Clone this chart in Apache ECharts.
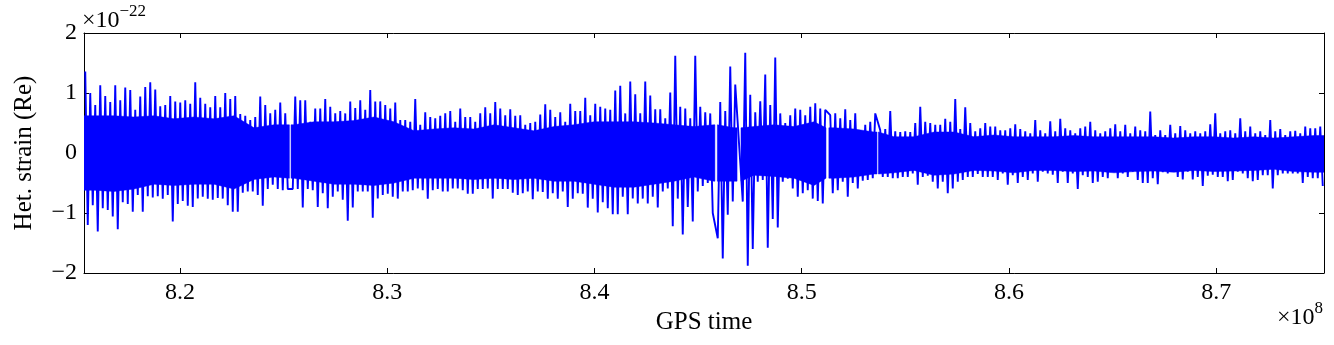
<!DOCTYPE html>
<html>
<head>
<meta charset="utf-8">
<title>Het. strain (Re)</title>
<script src="https://cdn.jsdelivr.net/npm/echarts@6.0.0/dist/echarts.min.js"></script>
<style>
  html, body { margin: 0; padding: 0; background: #fff; }
  #chart { width: 1334px; height: 345px; }
</style>
</head>
<body>
<div id="chart"></div>
<script>
// GPS time range, in units of 1e8 s
const timeRange = [8.1537, 8.7520]
const xTicks = [8.2, 8.3, 8.4, 8.5, 8.6, 8.7]

// peak values (units of 1e-22) per narrow time slice
const hiPeaks = [
  1.36, 1.0, 0.8, 1.13, 0.95, 0.85, 1.13, 0.88, 1.09, 1.05, 0.72, 0.94, 1.1, 1.18, 1.06, 0.78,
  0.8, 0.95, 0.86, 0.84, 0.88, 0.82, 1.18, 0.92, 0.82, 0.76, 0.95, 0.76, 1.0, 0.9, 0.95, 0.65,
  0.62, 0.55, 0.6, 0.94, 0.8, 0.66, 0.72, 0.84, 0.66, 0.63, 0.94,
  0.88, 0.88, 0.52, 0.74, 0.74, 0.9, 0.77, 0.66, 0.7, 0.66, 0.86, 0.75, 0.88, 0.72, 1.05, 0.86,
  0.86, 0.8, 0.74, 0.84, 0.55, 0.55, 0.52, 0.9, 0.47, 0.68, 0.6, 0.58, 0.62, 0.66, 0.7, 0.52,
  0.74, 0.6, 0.6, 0.52, 0.66, 0.76, 0.66, 0.85, 0.74, 0.63,
  0.73, 0.62, 0.63, 0.47, 0.5, 0.52, 0.64, 0.81, 0.72, 0.6, 0.68, 0.52, 0.82, 0.7, 0.7, 0.92,
  0.63, 0.82, 0.77, 0.74, 0.72, 1.04, 1.12, 0.66, 1.19, 0.98, 0.66, 1.19, 0.96, 0.73, 0.73, 0.58,
  1.01, 1.62, 0.77, 0.74, 0.58, 1.62, 0.77, 0.68, 0.66, 1.08,
  0.85, 0.7, 1.44, 1.14, 0.55, 1.67, 0.97, 0.68, 0.86, 1.31, 0.8, 1.59, 0.66, 0.5, 0.63, 0.74,
  0.72, 0.63, 0.77, 0.83, 0.74, 0.72, 0.63, 0.66, 0.58, 0.73, 0.55, 0.66, 0.38, 0.47, 0.52, 0.66,
  0.38, 0.4, 0.7, 0.36, 0.35, 0.36, 0.35, 0.5, 0.77, 0.52,
  0.5, 0.47, 0.47, 0.57, 0.52, 0.9, 0.4, 0.76, 0.5, 0.36, 0.41, 0.5, 0.44, 0.44, 0.38, 0.38,
  0.41, 0.48, 0.4, 0.36, 0.33, 0.55, 0.38, 0.33, 0.53, 0.36, 0.57, 0.41, 0.38, 0.33, 0.41, 0.44,
  0.52, 0.38, 0.33, 0.36, 0.41, 0.48, 0.36, 0.47, 0.33, 0.44,
  0.38, 0.36, 0.69, 0.3, 0.38, 0.3, 0.47, 0.33, 0.45, 0.38, 0.33, 0.36, 0.33, 0.36, 0.48, 0.66,
  0.33, 0.36, 0.38, 0.33, 0.58, 0.36, 0.44, 0.33, 0.36, 0.3, 0.55, 0.36, 0.4, 0.3, 0.36, 0.37,
  0.33, 0.44, 0.41, 0.41, 0.44
]
const loPeaks = [
  -1.2, -0.87, -1.31, -0.92, -0.95, -1.06, -1.27, -0.82, -0.85, -0.98, -0.7, -0.98, -0.72, -0.74, -0.72, -0.76,
  -0.7, -1.14, -0.85, -0.8, -0.88, -0.9, -0.76, -0.73, -0.76, -0.78, -0.75, -0.76, -0.87, -0.98, -0.98, -0.66,
  -0.64, -0.64, -0.7, -0.88, -0.6, -0.53, -0.6, -0.62, -0.6, -0.6, -0.6,
  -0.91, -0.6, -0.62, -0.9, -0.67, -0.92, -0.73, -0.64, -0.78, -1.13, -0.91, -0.64, -0.64, -0.64, -1.08, -0.76,
  -0.7, -0.68, -0.73, -0.76, -0.64, -0.64, -0.62, -0.59, -0.62, -0.76, -0.62, -0.6, -0.64, -0.64, -0.59, -0.59,
  -0.62, -0.68, -0.68, -0.6, -0.6, -0.59, -0.76, -0.6, -0.6, -0.6,
  -0.66, -0.7, -0.67, -0.64, -0.77, -0.64, -0.65, -0.76, -0.67, -0.76, -0.64, -0.9, -0.76, -0.67, -0.68, -0.91,
  -0.76, -0.99, -0.82, -0.92, -1.02, -1.02, -0.73, -1.02, -0.76, -0.84, -0.76, -0.84, -0.73, -0.91, -0.64, -0.59,
  -1.22, -0.76, -1.36, -0.9, -1.14, -0.64, -0.55, -0.5, -1.0, -1.42,
  -1.76, -1.03, -0.81, -0.75, -0.81, -1.88, -1.6, -0.48, -0.45, -1.58, -1.1, -1.24, -0.48, -0.43, -0.59, -0.73,
  -0.67, -0.62, -0.76, -0.8, -0.84, -0.7, -0.67, -0.62, -0.48, -0.73, -0.5, -0.59, -0.46, -0.45, -0.42, -0.47,
  -0.4, -0.4, -0.42, -0.42, -0.4, -0.4, -0.34, -0.53, -0.4, -0.38,
  -0.48, -0.59, -0.48, -0.67, -0.59, -0.48, -0.45, -0.4, -0.4, -0.35, -0.4, -0.4, -0.4, -0.45, -0.34, -0.53,
  -0.37, -0.5, -0.4, -0.45, -0.34, -0.48, -0.31, -0.34, -0.36, -0.5, -0.31, -0.5, -0.34, -0.6, -0.37, -0.4,
  -0.5, -0.48, -0.4, -0.42, -0.31, -0.42, -0.34, -0.4, -0.31, -0.45,
  -0.5, -0.5, -0.42, -0.52, -0.32, -0.34, -0.31, -0.4, -0.44, -0.31, -0.44, -0.4, -0.55, -0.38, -0.36, -0.4,
  -0.4, -0.47, -0.45, -0.31, -0.34, -0.42, -0.47, -0.45, -0.37, -0.37, -0.59, -0.37, -0.34, -0.34, -0.34, -0.34,
  -0.5, -0.4, -0.42, -0.42, -0.55
]

// solid part of the noise band, one value per block of 4 slices
const coreHi = [
  0.62, 0.62, 0.6, 0.62, 0.57, 0.6, 0.57, 0.62, 0.42, 0.47, 0.47, 0.52, 0.52, 0.54, 0.6, 0.52,
  0.37, 0.4, 0.42, 0.4, 0.47, 0.42, 0.37, 0.44, 0.47, 0.52, 0.52, 0.52, 0.5, 0.47, 0.44, 0.47,
  0.42, 0.44, 0.47, 0.44, 0.52, 0.42, 0.4, 0.35, 0.27, 0.27, 0.35, 0.35, 0.27, 0.3,
  0.27, 0.27, 0.27, 0.29, 0.27, 0.27, 0.27, 0.27, 0.25, 0.27, 0.27, 0.25, 0.27, 0.25, 0.27, 0.29
]
const coreLo = [
  -0.62, -0.64, -0.6, -0.52, -0.54, -0.52, -0.52, -0.6, -0.44, -0.4, -0.42, -0.47, -0.52, -0.52, -0.54, -0.5,
  -0.42, -0.42, -0.42, -0.44, -0.42, -0.44, -0.42, -0.47, -0.47, -0.52, -0.57, -0.57, -0.52, -0.47, -0.4, -0.47,
  -0.47, -0.37, -0.39, -0.42, -0.54, -0.42, -0.4, -0.35, -0.33, -0.29, -0.37, -0.35, -0.29, -0.3,
  -0.33, -0.29, -0.29, -0.31, -0.3, -0.33, -0.31, -0.3, -0.32, -0.29, -0.31, -0.3, -0.29, -0.27, -0.31, -0.32
]

// data gaps [start, end] in GPS time (1e8 s)
const gaps = [
  [8.2528, 8.2536], [8.4581, 8.4593], [8.4688, 8.4707],
  [8.5117, 8.5131], [8.5363, 8.5370]
]

const FONT = '"Liberation Serif", "Times New Roman", serif'
const BLUE = '#0000ff'

const step = (timeRange[1] - timeRange[0]) / hiPeaks.length
const blockLen = step * 4
const inGap = t => gaps.some(g => t >= g[0] && t <= g[1])

// zig-zag trace through the peaks, the line jumps straight across gaps
const trace = []
hiPeaks.forEach((h, i) => {
  const t1 = timeRange[0] + (i + 0.25) * step
  const t2 = timeRange[0] + (i + 0.75) * step
  if (!inGap(t1)) trace.push([t1, h])
  if (!inGap(t2)) trace.push([t2, loPeaks[i]])
})

// gap-free stretches of the band: [start, end]
const stretches = []
let s0 = timeRange[0]
gaps.forEach(g => { stretches.push([s0, g[0]]); s0 = g[1] })
stretches.push([s0, timeRange[1]])

const blockOf = t => Math.min(coreHi.length - 1, Math.max(0, Math.floor((t - timeRange[0]) / blockLen)))

// outline of the band for one stretch, as [t, value] pairs
function bandOutline(a, b) {
  const top = [[a, coreHi[blockOf(a)]]]
  const bottom = [[a, coreLo[blockOf(a)]]]
  coreHi.forEach((h, k) => {
    const t = timeRange[0] + (k + 0.5) * blockLen
    if (t > a && t < b) { top.push([t, h]); bottom.push([t, coreLo[k]]) }
  })
  top.push([b, coreHi[blockOf(b)]])
  bottom.push([b, coreLo[blockOf(b)]])
  return top.concat(bottom.reverse())
}

const minus = v => (v < 0 ? '\u2212' + Math.abs(v) : String(v))

const chart = echarts.init(document.getElementById('chart'), null, { renderer: 'canvas' })

const axisLine = { show: true, onZero: false, lineStyle: { color: '#000', width: 1 } }
const tickStyle = { color: '#000', width: 1 }
const sup = {
  a: { fontFamily: FONT, fontSize: 24, fill: '#000', verticalAlign: 'bottom', lineHeight: 30 },
  b: { fontFamily: FONT, fontSize: 17, fill: '#000', verticalAlign: 'top', lineHeight: 30 }
}

chart.setOption({
  animation: false,
  backgroundColor: '#fff',
  grid: { left: 84, right: 10, top: 33, bottom: 72, containLabel: false },
  xAxis: [{
    type: 'value',
    min: timeRange[0],
    max: timeRange[1],
    position: 'bottom',
    axisLine: axisLine,
    axisTick: { show: true, inside: true, length: 5, lineStyle: tickStyle, customValues: xTicks },
    axisLabel: {
      customValues: xTicks,
      formatter: v => v.toFixed(1),
      fontFamily: FONT, fontSize: 24, color: '#000', margin: 8
    },
    splitLine: { show: false },
    name: 'GPS time',
    nameLocation: 'middle',
    nameGap: 33,
    nameTextStyle: { fontFamily: FONT, fontSize: 25, color: '#000' }
  }, {
    type: 'value',
    min: timeRange[0],
    max: timeRange[1],
    position: 'top',
    axisLine: axisLine,
    axisTick: { show: true, inside: true, length: 5, lineStyle: tickStyle, customValues: xTicks },
    axisLabel: { show: false },
    splitLine: { show: false }
  }],
  yAxis: [{
    type: 'value',
    min: -2,
    max: 2,
    interval: 1,
    position: 'left',
    axisLine: axisLine,
    axisTick: { show: true, inside: true, length: 5, lineStyle: tickStyle },
    axisLabel: { formatter: minus, fontFamily: FONT, fontSize: 24, color: '#000', margin: 7 },
    splitLine: { show: false },
    name: 'Het. strain (Re)',
    nameLocation: 'middle',
    nameRotate: 90,
    nameGap: 47,
    nameTextStyle: { fontFamily: FONT, fontSize: 25, color: '#000' }
  }, {
    type: 'value',
    min: -2,
    max: 2,
    interval: 1,
    position: 'right',
    axisLine: axisLine,
    axisTick: { show: true, inside: true, length: 5, lineStyle: tickStyle },
    axisLabel: { show: false },
    splitLine: { show: false }
  }],
  graphic: [{
    type: 'text',
    left: 82,
    top: 3,
    style: { text: '{a|\u00d710}{b|\u221222}', rich: sup }
  }, {
    type: 'text',
    right: 11,
    top: 300,
    style: { text: '{a|\u00d710}{b|8}', rich: sup }
  }],
  series: [{
    name: 'band',
    type: 'custom',
    xAxisIndex: 0,
    yAxisIndex: 0,
    clip: true,
    encode: { x: [0, 1] },
    data: stretches,
    renderItem: (params, api) => {
      const pts = bandOutline(api.value(0), api.value(1)).map(p => api.coord(p))
      return {
        type: 'polygon',
        shape: { points: pts },
        style: { fill: BLUE, stroke: BLUE, lineWidth: 0.5 }
      }
    }
  }, {
    name: 'strain',
    type: 'line',
    xAxisIndex: 0,
    yAxisIndex: 0,
    data: trace,
    symbol: 'none',
    sampling: null,
    clip: true,
    lineStyle: { color: BLUE, width: 1.9 }
  }]
})
</script>
</body>
</html>
